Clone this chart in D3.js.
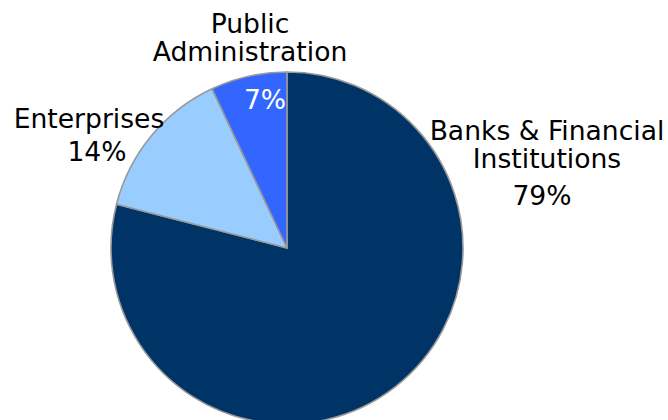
<!DOCTYPE html>
<html>
<head>
<meta charset="utf-8">
<style>
    body { margin: 0; background: #fff; }
    svg text { font-family: "DejaVu Sans", Verdana, sans-serif; }
</style>
</head>
<body>
<svg id="chart" width="668" height="420"></svg>
<script src="https://d3js.org/d3.v7.min.js"></script>
<script>
    // sectors, clockwise from 12 o'clock
    const sectors = ["Banks & Financial Institutions", "Enterprises", "Public Administration"];
    const shares = [79, 14, 7];
    const colors = ["#003366", "#99ccff", "#3366ff"];

    const svg = d3.select("#chart");
    const cx = 287, cy = 248, radius = 176;

    const data = sectors.map((s, i) => ({ sector: s, share: shares[i] }));

    const pie = d3.pie().sort(null).value(d => d.share);
    const arc = d3.arc().innerRadius(0).outerRadius(radius);

    const g = svg.append("g").attr("transform", `translate(${cx},${cy})`);

    g.selectAll("path")
        .data(pie(data))
        .enter()
        .append("path")
        .attr("d", arc)
        .attr("fill", (d, i) => colors[i])
        .attr("stroke", "#999999")
        .attr("stroke-width", 1.6)
        .attr("stroke-linejoin", "round");

    // labels (lines of text)
    const labels = [
        { lines: ["Banks & Financial", "Institutions"], x: 547, y: 140, pct: { x: 542, y: 205 }, color: "#000" },
        { lines: ["Enterprises"], x: 89, y: 128, pct: { x: 97, y: 161 }, color: "#000" },
        { lines: ["Public", "Administration"], x: 250, y: 33, pct: { x: 265, y: 109 }, color: "#000", pctColor: "#fff" }
    ];

    labels.forEach((l, i) => {
        l.lines.forEach((t, j) => {
            svg.append("text")
                .attr("x", l.x)
                .attr("y", l.y + j * 28)
                .attr("text-anchor", "middle")
                .attr("font-size", 26.6)
                .attr("fill", l.color)
                .text(t);
        });
        svg.append("text")
            .attr("x", l.pct.x)
            .attr("y", l.pct.y)
            .attr("text-anchor", "middle")
            .attr("font-size", 26.6)
            .attr("fill", l.pctColor || "#000")
            .text(shares[i] + "%");
    });
</script>
</body>
</html>
